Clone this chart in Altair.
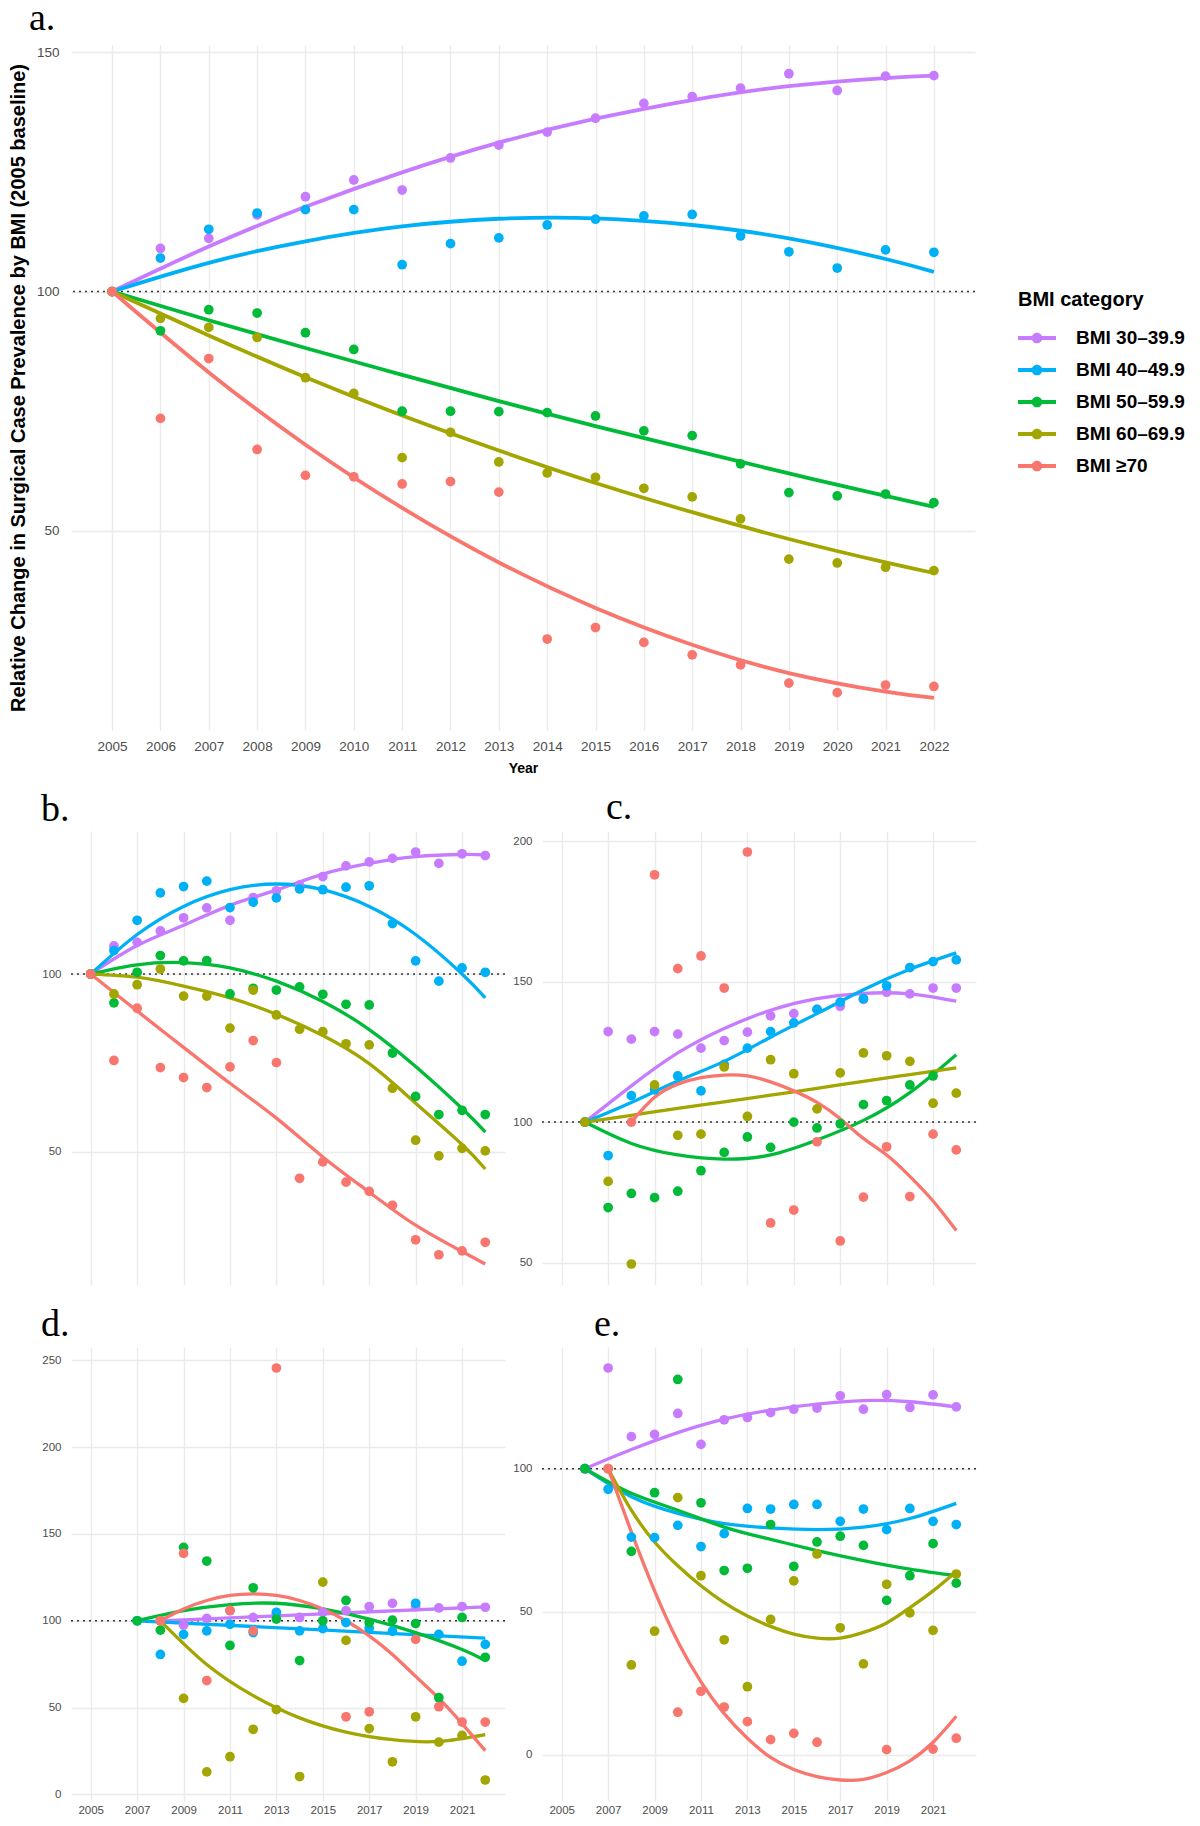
import altair as alt
import pandas as pd

CATS = ["BMI 30–39.9", "BMI 40–49.9", "BMI 50–59.9", "BMI 60–69.9", "BMI ≥70"]
COLORS = ["#C77CFF", "#00B0F6", "#00BA38", "#A3A500", "#F8766D"]
YEARS = list(range(2005, 2023))
ODD_YEARS = [2005, 2007, 2009, 2011, 2013, 2015, 2017, 2019, 2021]
N = None

# ---- panel a: all cases ----
A_PTS = {
    "BMI 30–39.9": [100, 109.0, 111.1, 116.0, 119.8, 123.3, 121.2, 127.9, 130.6, 133.3, 136.2, 139.3, 140.7, 142.5, 145.5, 142.0, 145.0, 145.1],
    "BMI 40–49.9": [100, 107.0, 113.0, 116.4, 117.1, 117.1, 105.6, 110.0, 111.2, 113.9, 115.1, 115.8, 116.1, 111.6, 108.3, 104.9, 108.7, 108.2],
    "BMI 50–59.9": [100, 91.8, 96.2, 95.5, 91.4, 87.9, 75.0, 75.0, 74.9, 74.7, 74.0, 70.9, 69.9, 64.0, 58.0, 57.3, 57.7, 55.9],
    "BMI 60–69.9": [100, 94.4, 92.5, 90.4, 82.0, 78.7, 65.3, 70.6, 64.4, 62.1, 61.2, 58.9, 57.1, 52.5, 44.1, 43.3, 42.4, 41.7],
    "BMI ≥70": [100, 73.5, 86.0, 67.0, 61.6, 61.3, 59.8, 60.3, 58.1, 27.4, 29.8, 26.7, 24.1, 22.0, 18.2, 16.2, 17.8, 17.5],
}
FY_ODD05 = [2005, 2007, 2009, 2011, 2013, 2015, 2017, 2019, 2021, 2022]
A_FIT = {
    "BMI 30–39.9": (FY_ODD05, [100, 109.4, 117.7, 124.9, 131.1, 136.1, 140.0, 142.9, 144.6, 145.1]),
    "BMI 40–49.9": (FY_ODD05, [100, 106.0, 110.5, 113.6, 115.2, 115.3, 113.9, 111.1, 106.8, 104.1]),
    "BMI 50–59.9": (FY_ODD05, [100, 94.0, 88.2, 82.6, 77.1, 71.9, 66.9, 62.0, 57.3, 55.0]),
    "BMI 60–69.9": (FY_ODD05, [100, 90.8, 82.1, 74.1, 66.8, 60.0, 53.9, 48.3, 43.4, 41.2]),
    "BMI ≥70": (FY_ODD05, [100, 83.1, 68.0, 54.8, 43.4, 33.9, 26.2, 20.3, 16.4, 15.1]),
}

# ---- panel b ----
B_PTS = {
    "BMI 30–39.9": [100, 107.9, 108.9, 112.1, 115.8, 118.6, 115.1, 121.5, 123.4, 125.0, 127.4, 130.4, 131.5, 132.5, 134.3, 131.1, 133.8, 133.3],
    "BMI 40–49.9": [100, 106.6, 115.1, 122.8, 124.6, 126.1, 118.7, 120.2, 121.4, 123.9, 123.7, 124.4, 124.8, 114.2, 103.7, 98.0, 101.7, 100.5],
    "BMI 50–59.9": [100, 91.9, 100.5, 105.2, 103.7, 103.8, 94.4, 96.0, 95.5, 96.4, 94.3, 91.5, 91.3, 77.8, 65.6, 60.5, 61.7, 60.5],
    "BMI 60–69.9": [100, 94.4, 97.0, 101.4, 93.8, 93.8, 84.8, 95.5, 88.5, 84.5, 83.8, 80.4, 80.1, 67.9, 53.3, 48.9, 51.0, 50.3],
    "BMI ≥70": [100, 75.7, 90.4, 73.7, 70.9, 68.1, 73.9, 81.3, 75.1, 42.6, 47.2, 41.5, 38.9, 35.0, 25.3, 21.1, 22.2, 24.6],
}
B_FIT = {
    "BMI 30–39.9": (FY_ODD05, [100, 108.0, 113.7, 119.3, 123.6, 128.1, 131.1, 133.0, 133.6, 133.5]),
    "BMI 40–49.9": (FY_ODD05, [100, 111.1, 119.0, 123.7, 125.3, 123.7, 119.0, 111.1, 100.0, 93.3]),
    "BMI 50–59.9": (FY_ODD05, [100, 102.6, 103.2, 101.7, 98.0, 92.3, 84.4, 74.0, 62.2, 55.6]),
    "BMI 60–69.9": (FY_ODD05, [100, 99.1, 96.6, 93.3, 88.7, 82.7, 74.8, 63.7, 52.1, 45.2]),
    "BMI ≥70": (FY_ODD05, [100, 89.6, 79.4, 69.3, 59.5, 48.6, 38.7, 29.4, 22.0, 18.5]),
}

# ---- panel c ----
C_PTS = {
    "BMI 30–39.9": [N, 100, 132.2, 129.5, 132.2, 131.3, 126.3, 129.0, 132.0, 137.8, 138.6, 140.1, 141.2, 143.7, 146.2, 145.6, 147.7, 147.7],
    "BMI 40–49.9": [N, 100, 88.1, 109.4, 111.5, 116.4, 111.1, 120.5, 126.3, 132.2, 135.3, 140.1, 142.7, 143.9, 148.5, 155.0, 157.1, 157.7],
    "BMI 50–59.9": [N, 100, 69.6, 74.6, 73.1, 75.4, 82.7, 89.2, 94.7, 91.0, 100.0, 97.9, 99.4, 106.2, 107.6, 113.2, 116.4, N],
    "BMI 60–69.9": [N, 100, 78.9, 49.5, 113.2, 95.3, 95.7, 119.6, 102.0, 122.2, 117.2, 104.7, 117.5, 124.6, 123.6, 121.6, 106.7, 110.3],
    "BMI ≥70": [N, N, N, 100, 188.0, 154.6, 159.1, 147.7, 196.1, 64.1, 68.7, 93.0, 57.7, 73.3, 91.2, 73.5, 95.7, 90.1],
}
FY_EVEN06 = [2006, 2008, 2010, 2012, 2014, 2016, 2018, 2020, 2022]
FY_ALL08 = list(range(2008, 2023))
C_FIT = {
    "BMI 30–39.9": (FY_EVEN06, [100, 112.9, 124.6, 133.3, 139.8, 143.9, 145.8, 145.6, 143.0]),
    "BMI 40–49.9": (FY_EVEN06, [100, 107.0, 114.6, 121.6, 130.2, 138.6, 147.1, 154.4, 160.2]),
    "BMI 50–59.9": (FY_EVEN06, [100, 92.4, 88.3, 86.8, 88.3, 93.6, 100.6, 110.5, 124.0]),
    "BMI 60–69.9": (FY_EVEN06, [100, 102.4, 104.9, 107.2, 109.6, 112.0, 114.5, 116.9, 119.3]),
    "BMI ≥70": (FY_ALL08, [100, 108.8, 113.5, 115.8, 116.7, 116.4, 114.3, 111.1, 107.0, 101.2, 94.2, 88.3, 80.7, 71.9, 61.4]),
}

# ---- panel d ----
D_PTS = {
    "BMI 30–39.9": [N, N, N, 100, 97.5, 101.4, 105.8, 101.9, 103.5, 101.9, 104.9, 105.8, 108.2, 110.1, 108.2, 107.4, 108.2, 107.8],
    "BMI 40–49.9": [N, N, 100, 80.6, 92.2, 94.2, 98.0, 93.2, 104.9, 94.2, 95.5, 99.0, 95.7, 94.0, 110.1, 92.2, 76.7, 86.4],
    "BMI 50–59.9": [N, N, 100, 94.6, 142.3, 134.4, 85.8, 119.0, 101.0, 77.1, 100.0, 111.7, 99.0, 100.4, 98.4, 55.7, 101.9, 79.0],
    "BMI 60–69.9": [N, N, N, 100, 55.3, 13.0, 21.7, 37.5, 48.9, 10.3, 122.3, 88.7, 37.9, 18.8, 44.7, 30.1, 34.0, 8.3],
    "BMI ≥70": [N, N, N, 100, 138.8, 65.6, 106.0, 94.2, 245.6, N, N, 44.7, 47.6, N, 89.3, 50.5, 41.7, 41.7],
}
D_FIT = {
    "BMI 30–39.9": ([2008, 2015, 2022], [100, 104.0, 108.0]),
    "BMI 40–49.9": ([2007, 2012, 2017, 2022], [100, 96.7, 93.3, 90.0]),
    "BMI 50–59.9": ([2007, 2009, 2011, 2013, 2015, 2017, 2019, 2021, 2022], [100, 105.8, 109.3, 110.1, 106.8, 101.0, 93.2, 83.5, 77.1]),
    "BMI 60–69.9": ([2008, 2010, 2012, 2014, 2016, 2018, 2020, 2022], [100, 74.8, 56.9, 44.1, 35.9, 31.5, 30.5, 34.4]),
    "BMI ≥70": (FY_ALL08, [100, 106.8, 111.7, 114.6, 115.5, 114.6, 111.7, 106.8, 100.0, 91.3, 80.6, 68.0, 55.3, 40.8, 25.2]),
}

# ---- panel e ----
E_PTS = {
    "BMI 30–39.9": [N, 100, 135.2, 111.2, 112.0, 119.3, 108.5, 117.1, 117.9, 119.6, 120.8, 121.2, 125.5, 120.8, 125.9, 121.4, 125.8, 121.6],
    "BMI 40–49.9": [N, 100, 92.8, 76.1, 75.9, 80.2, 72.8, 77.3, 86.1, 85.9, 87.5, 87.5, 81.6, 85.9, 78.7, 86.1, 81.6, 80.5],
    "BMI 50–59.9": [N, 100, N, 71.1, 91.6, 131.2, 88.1, 64.4, 65.2, 80.5, 65.9, 74.4, 76.4, 73.2, 54.0, 62.6, 73.8, 60.0],
    "BMI 60–69.9": [N, N, 100, 31.4, 43.2, 89.9, 62.6, 40.2, 23.8, 47.3, 60.8, 70.2, 44.4, 31.8, 59.6, 49.6, 43.5, 63.2],
    "BMI ≥70": [N, N, 100, N, N, 14.9, 22.2, 16.7, 11.6, 5.3, 7.5, 4.4, N, N, 1.8, N, 2.0, 5.8],
}
FY_ALL07 = list(range(2007, 2023))
E_FIT = {
    "BMI 30–39.9": (FY_EVEN06, [100, 106.7, 112.6, 117.3, 120.5, 122.6, 123.8, 123.4, 121.6]),
    "BMI 40–49.9": (FY_EVEN06, [100, 90.2, 84.4, 80.8, 79.3, 78.7, 79.6, 82.6, 87.9]),
    "BMI 50–59.9": (FY_EVEN06, [100, 91.4, 85.5, 79.6, 75.3, 71.4, 67.9, 64.9, 62.6]),
    "BMI 60–69.9": (FY_ALL07, [100, 85.5, 74.4, 66.1, 59.1, 53.2, 48.5, 44.9, 42.2, 40.8, 40.8, 42.8, 46.1, 51.4, 57.3, 64.1]),
    "BMI ≥70": (FY_ALL07, [100, 77.9, 57.3, 39.6, 25.5, 14.4, 5.8, -0.9, -5.1, -7.6, -8.8, -8.6, -6.2, -2.1, 4.4, 13.5]),
}


def long_rows(panel, pts, fits):
    rows = []
    for k, cat in enumerate(CATS):
        for yr, v in zip(YEARS, pts[cat]):
            if v is not None:
                rows.append({"panel": panel, "kind": "pt", "cat": cat, "k": k, "year": yr, "value": v})
        yrs, vals = fits[cat]
        for yr, v in zip(yrs, vals):
            rows.append({"panel": panel, "kind": "fit", "cat": cat, "k": k, "year": yr, "value": v})
    rows.append({"panel": panel, "kind": "lab", "cat": CATS[0], "k": 0, "year": 2005, "value": 100})
    return rows


df_a = pd.DataFrame(long_rows("a", A_PTS, A_FIT))
df_f = pd.DataFrame(
    long_rows("b", B_PTS, B_FIT) + long_rows("c", C_PTS, C_FIT)
    + long_rows("d", D_PTS, D_FIT) + long_rows("e", E_PTS, E_FIT)
)

color_scale = alt.Scale(domain=CATS, range=COLORS)
LEGEND_SYMBOL = ("M-1,-0.11L1,-0.11L1,0.11L-1,0.11Z "
                 "M0.28,0A0.28,0.28 0 1,1 -0.28,0A0.28,0.28 0 1,1 0.28,0Z")
SANS = "Liberation Sans"
SERIF = "Liberation Serif"
GRID = "#EBEBEB"
LABEL_GRAY = "#4D4D4D"

# one shared legend for the whole figure (placed beside panel a);
# every colour/stroke channel carries the same definition so they merge into it
bmi_legend = alt.Legend(
    title="BMI category", orient="none", direction="vertical", legendX=947, legendY=245,
    symbolType=LEGEND_SYMBOL, symbolSize=1444, symbolStrokeWidth=0, symbolOpacity=1,
    clipHeight=16, rowPadding=13, labelOffset=20, titlePadding=20,
    titleFont=SANS, titleFontSize=20, titleFontWeight="bold", titleColor="black",
    labelFont=SANS, labelFontSize=19, labelFontWeight="bold", labelColor="black",
)
cat_color = alt.Color("cat:N", title="BMI category", scale=color_scale, legend=bmi_legend)
cat_stroke = alt.Stroke("cat:N", title="BMI category", scale=color_scale, legend=bmi_legend)

# ---------------- panel a ----------------
x_a = alt.X(
    "year:Q",
    scale=alt.Scale(domain=[2004.15, 2022.85], nice=False, zero=False),
    axis=alt.Axis(values=YEARS, format="d", title="Year", labelFontSize=13.5, labelPadding=9,
                  titleFontSize=14, titlePadding=9, titleFontWeight="bold", titleColor="black"),
)
y_a = alt.Y(
    "value:Q",
    scale=alt.Scale(domain=[8.4, 151.5], nice=False, zero=False),
    axis=alt.Axis(values=[50, 100, 150], title="Relative Change in Surgical Case Prevalence by BMI (2005 baseline)",
                  labelFontSize=13.5, labelPadding=12, titleFontSize=20, titlePadding=8,
                  titleFontWeight="bold", titleColor="black"),
)
base_a = alt.Chart(df_a)
ref_a = base_a.transform_filter("datum.kind == 'lab'").mark_rule(
    color="#333333", strokeDash=[2, 4], strokeWidth=1.5
).encode(y=alt.datum(100))
fit_a = base_a.transform_filter("datum.kind == 'fit'").mark_line(
    interpolate="natural", strokeWidth=3.8
).encode(x=x_a, y=y_a, stroke=cat_stroke)
pts_a = base_a.transform_filter("datum.kind == 'pt'").mark_circle(size=95, opacity=1).encode(
    x=x_a, y=y_a, color=cat_color,
)
lab_a = base_a.transform_filter("datum.kind == 'lab'").mark_text(
    text="a.", align="left", baseline="alphabetic", font=SERIF, fontSize=38, color="black"
).encode(x=alt.value(-42), y=alt.value(-15))
chart_a = alt.layer(ref_a, fit_a, pts_a, lab_a).properties(width=904, height=685)

# ---------------- panels b-e ----------------
x_f = alt.X(
    "year:Q",
    scale=alt.Scale(domain=[2004.15, 2022.85], nice=False, zero=False),
    axis=alt.Axis(values=ODD_YEARS, format="d", title=None, labelFontSize=11.5, labelPadding=3),
)
y_f = alt.Y(
    "value:Q",
    scale=alt.Scale(zero=False, nice=False, padding=21),
    axis=alt.Axis(values=[0, 50, 100, 150, 200, 250], title=None, labelFontSize=11.5, labelPadding=10),
)
ref_f = alt.Chart().transform_filter("datum.kind == 'lab'").mark_rule(
    color="#333333", strokeDash=[2, 4], strokeWidth=1.5
).encode(y=alt.datum(100))
fit_f = alt.Chart().transform_filter("datum.kind == 'fit'").mark_line(
    interpolate="natural", strokeWidth=3.3
).encode(x=x_f, y=y_f, stroke=cat_stroke)
pts_f = alt.Chart().transform_filter("datum.kind == 'pt'").mark_circle(size=95, opacity=1).encode(
    x=x_f, y=y_f, color=cat_color
)

LABEL_POS = {"b": (-30, -10), "c": (64, -12), "d": (-30, -11), "e": (52, -11)}
label_layers = [
    alt.Chart().transform_filter(f"datum.kind == 'lab' && datum.panel == '{p}'").mark_text(
        text=f"{p}.", align="left", baseline="alphabetic", font=SERIF, fontSize=38, color="black"
    ).encode(x=alt.value(dx), y=alt.value(dy))
    for p, (dx, dy) in LABEL_POS.items()
]
# white spacer so the left column lines up with panel a
spacer = alt.Chart().transform_filter(
    "datum.kind == 'lab' && (datum.panel == 'b' || datum.panel == 'd')"
).mark_text(text=".", align="left", color="white", fontSize=10).encode(
    x=alt.value(-62), y=alt.value(200)
)

cell = alt.layer(ref_f, fit_f, pts_f, *label_layers, spacer, data=df_f).properties(width=434, height=454)
chart_f = cell.facet(
    facet=alt.Facet("panel:N", title=None,
                    header=alt.Header(labels=False, title=None, labelFontSize=0, labelPadding=0,
                                      labelExpr="''")),
    columns=2,
    spacing={"row": 21, "column": 6},
).resolve_scale(y="independent")

chart = (
    alt.vconcat(chart_a, chart_f, spacing=13)
    .properties(padding={"left": 0, "top": -8, "right": 0, "bottom": 0})
    .configure_view(stroke=None)
    .configure_header(labels=False, labelFontSize=0, labelPadding=0)
    .configure_axis(
        domain=False, ticks=False, tickSize=0, grid=True, gridColor=GRID, gridWidth=1.4,
        labelColor=LABEL_GRAY, labelFont=SANS, titleFont=SANS,
    )
)

chart.save("out.html", embed_options={"renderer": "svg", "actions": False})
